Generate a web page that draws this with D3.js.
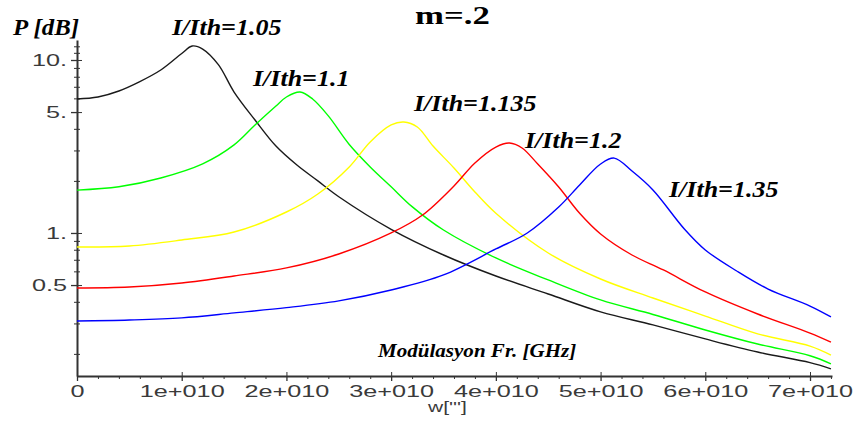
<!DOCTYPE html>
<html>
  <head>
    <meta charset="utf-8">
    <title>m=.2</title>
    <script src="https://cdn.jsdelivr.net/npm/d3@7/dist/d3.min.js"></script>
    <style>
      body { margin: 0; background: #fff; }
      svg { display: block; }
      .tick text { font-family: "Liberation Sans", Arial, sans-serif; font-size: 16.5px; fill: #3a3a3a; }
      .axis path, .axis line { stroke: #333; }
      .lbl { font-family: "Liberation Serif", "Times New Roman", serif; font-weight: bold; font-style: italic; fill: #000; }
    </style>
  </head>

  <body>
    <svg id="chart" width="856" height="421"></svg>

    <script>
      // frequencies in units of 1e10, response values
      const freq105 = [0, 0.2, 0.4, 0.6, 0.8, 1.0, 1.1, 1.2, 1.35, 1.5, 1.7, 1.9, 2.1, 2.3, 2.5, 3.0, 3.5, 4.0, 4.5, 5.0, 5.5, 6.0, 6.5, 7.0, 7.2];
      const p105 = [5.95, 6.11, 6.62, 7.5, 8.75, 10.9, 12.05, 11.57, 9.4, 6.53, 4.50, 3.18, 2.47, 2.00, 1.62, 1.05, 0.746, 0.564, 0.444, 0.350, 0.294, 0.244, 0.205, 0.178, 0.164];

      const freq11 = [0, 0.4, 0.8, 1.2, 1.5, 1.7, 1.9, 2.0, 2.13, 2.25, 2.4, 2.6, 2.8, 3.0, 3.2, 3.5, 4.0, 4.5, 5.0, 5.5, 6.0, 6.5, 7.0, 7.2];
      const p11 = [1.77, 1.85, 2.08, 2.51, 3.23, 4.21, 5.42, 6.11, 6.53, 5.95, 4.75, 3.25, 2.41, 1.85, 1.42, 1.04, 0.717, 0.535, 0.410, 0.338, 0.275, 0.228, 0.195, 0.175];

      const freq1135 = [0, 0.5, 1.0, 1.5, 2.0, 2.3, 2.6, 2.8, 3.0, 3.12, 3.25, 3.4, 3.6, 3.8, 4.0, 4.5, 5.0, 5.5, 6.0, 6.5, 7.0, 7.2];
      const p1135 = [0.83, 0.841, 0.911, 1.013, 1.322, 1.68, 2.41, 3.36, 4.21, 4.38, 4.10, 3.18, 2.375, 1.726, 1.30, 0.766, 0.542, 0.421, 0.331, 0.261, 0.222, 0.197];

      const freq12 = [0, 0.5, 1.0, 1.5, 2.0, 2.5, 3.0, 3.3, 3.6, 3.8, 4.0, 4.13, 4.25, 4.4, 4.6, 4.8, 5.0, 5.3, 5.6, 6.0, 6.5, 7.0, 7.2];
      const p12 = [0.481, 0.487, 0.514, 0.564, 0.628, 0.756, 1.0, 1.27, 1.87, 2.54, 3.14, 3.31, 3.10, 2.505, 1.845, 1.30, 0.987, 0.746, 0.611, 0.456, 0.340, 0.264, 0.234];

      const freq135 = [0, 0.5, 1.0, 1.5, 2.0, 2.5, 3.0, 3.5, 4.0, 4.3, 4.6, 4.8, 5.0, 5.13, 5.3, 5.5, 5.8, 6.0, 6.3, 6.6, 7.0, 7.2];
      const p135 = [0.310, 0.314, 0.323, 0.345, 0.370, 0.405, 0.468, 0.572, 0.808, 1.0, 1.413, 1.894, 2.505, 2.71, 2.28, 1.773, 1.055, 0.798, 0.603, 0.474, 0.378, 0.327];

      const seriesNames = ["I/Ith=1.05", "I/Ith=1.1", "I/Ith=1.135", "I/Ith=1.2", "I/Ith=1.35"];
      const seriesColors = ["#1a1a1a", "#00ff00", "#ffff00", "#ff0000", "#0000ff"];

      // axis ticks
      const xMajor = [0, 1, 2, 3, 4, 5, 6, 7];
      const xLabels = ["0", "1e+010", "2e+010", "3e+010", "4e+010", "5e+010", "6e+010", "7e+010"];
      const yMajor = [0.5, 1, 5, 10];
      const yLabels = ["0.5", "1.", "5.", "10."];
      const yMinor = [0.2, 0.3, 0.4, 0.6, 0.7, 0.8, 0.9, 2, 3, 4, 6, 7, 8, 9, 11, 12];

      const series = [
        [freq105, p105], [freq11, p11], [freq1135, p1135], [freq12, p12], [freq135, p135]
      ].map(function(s, i) {
        return {
          name: seriesNames[i],
          color: seriesColors[i],
          pts: s[0].map(function(f, j) { return [f, s[1][j]]; })
        };
      });

      // layout
      const plotLeft = 77, plotRight = 832, plotTop = 40, plotBottom = 376;
      const sx = 1.53; // tick labels are drawn wide in the original
      const labelPos = [[172, 35], [253, 86], [414, 111], [525, 148], [669, 197]];

      const svg = d3.select("#chart");

      const x = d3.scaleLinear().domain([0, 7.21]).range([plotLeft, plotRight]);
      const y = d3.scaleLog().domain([0.149, 13.05]).range([plotBottom, plotTop]);

      // x axis
      const gx = svg.append("g")
        .attr("class", "axis")
        .attr("transform", "translate(0," + plotBottom + ")")
        .call(d3.axisBottom(x).tickValues(xMajor).tickSize(5).tickSizeOuter(0).tickPadding(4)
          .tickFormat(function(d, i) { return xLabels[i]; }));
      gx.select(".domain").attr("stroke-width", 2);
      gx.selectAll(".tick line").attr("stroke-width", 1.3);
      gx.selectAll(".tick text").attr("transform", "scale(" + sx + ",1)");
      svg.append("g")
        .attr("class", "axis")
        .attr("transform", "translate(0," + plotBottom + ")")
        .call(d3.axisBottom(x).tickValues(xMajor).tickSize(-4).tickFormat(""))
        .select(".domain").remove();
      svg.append("g")
        .attr("class", "axis")
        .attr("transform", "translate(0," + plotBottom + ")")
        .call(d3.axisBottom(x).tickValues(d3.range(0.2, 7.21, 0.2).filter(function(d) {
          return Math.abs(d - Math.round(d)) > 0.01;
        })).tickSize(3).tickFormat(""))
        .select(".domain").remove();

      // y axis
      const gy = svg.append("g")
        .attr("class", "axis")
        .attr("transform", "translate(" + plotLeft + ",0)")
        .call(d3.axisLeft(y).tickValues(yMajor).tickSize(6).tickSizeOuter(0).tickPadding(4)
          .tickFormat(function(d, i) { return yLabels[i]; }));
      gy.select(".domain").attr("stroke-width", 2);
      gy.selectAll(".tick line").attr("stroke-width", 1.3);
      gy.selectAll(".tick text")
        .attr("x", -10 / sx)
        .attr("transform", "scale(" + sx + ",1)");
      svg.append("g")
        .attr("class", "axis")
        .attr("transform", "translate(" + plotLeft + ",0)")
        .call(d3.axisRight(y).tickValues(yMajor).tickSize(5).tickFormat(""))
        .select(".domain").remove();
      svg.append("g")
        .attr("class", "axis")
        .attr("transform", "translate(" + (plotLeft + 3) + ",0)")
        .call(d3.axisLeft(y).tickValues(yMinor).tickSize(6).tickFormat(""))
        .select(".domain").remove();

      // curves
      const line = d3.line()
        .x(function(d) { return x(d[0]); })
        .y(function(d) { return y(d[1]); })
        .curve(d3.curveCatmullRom.alpha(0.5));

      svg.append("g").selectAll("path")
        .data(series)
        .enter().append("path")
          .attr("fill", "none")
          .attr("stroke", function(d) { return d.color; })
          .attr("stroke-width", 1.4)
          .attr("d", function(d) { return line(d.pts); });

      // texts, stretched horizontally like the original bitmap fonts
      function stretched(str, px, py, size, scale, cls, extra) {
        const t = svg.append("text")
          .attr("transform", "translate(" + px + "," + py + ") scale(" + scale + ",1)")
          .attr("class", cls)
          .style("font-size", size + "px")
          .text(str);
        if (extra) extra(t);
        return t;
      }

      series.forEach(function(s, i) {
        stretched(s.name, labelPos[i][0], labelPos[i][1], 23, 1.13, "lbl");
      });

      stretched("P [dB]", 13, 35, 23, 1.08, "lbl");
      stretched("Modülasyon Fr. [GHz]", 378, 357, 18, 1.17, "lbl");

      stretched("m=.2", 415, 24, 25, 1.39, "", function(t) {
        t.style("font-family", "'Liberation Serif', 'Times New Roman', serif")
          .style("font-weight", "bold");
      });

      stretched("w[''']", 428, 412, 14, 1.5, "", function(t) {
        t.style("font-family", "'Liberation Sans', Arial, sans-serif")
          .style("fill", "#3a3a3a");
      });
    </script>
  </body>
</html>
